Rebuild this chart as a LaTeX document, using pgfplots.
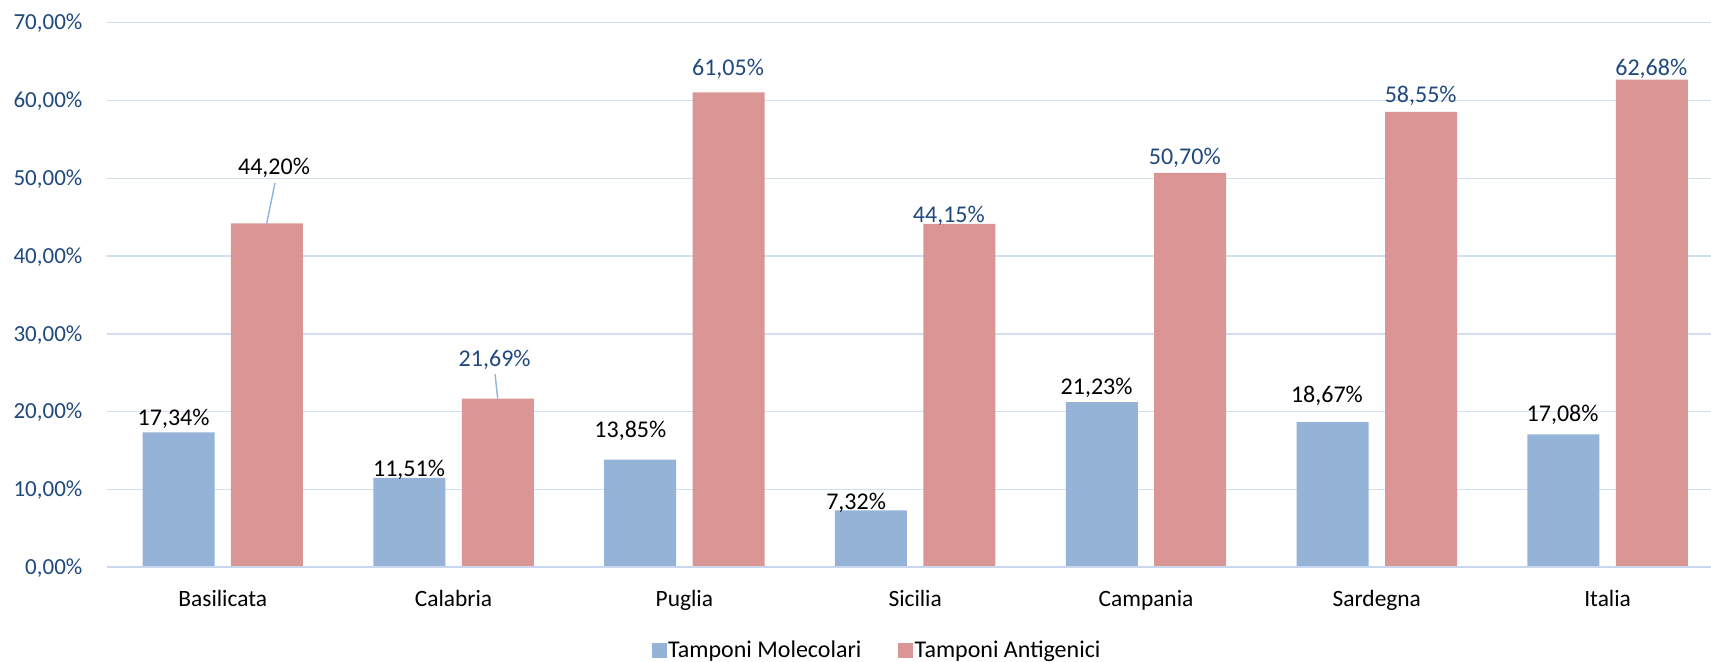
\documentclass[border=0pt]{standalone}
\usepackage{fontspec}
\setmainfont{Carlito}
\usepackage{pgfplots}
\pgfplotsset{compat=1.18}
\definecolor{barblue}{HTML}{95B3D7}
\definecolor{barred}{HTML}{D99694}
\definecolor{txtblue}{HTML}{1F497D}
\definecolor{gridc}{RGB}{210,223,241}
\definecolor{zeroc}{RGB}{200,215,238}
\definecolor{leader}{RGB}{141,180,226}
\tikzset{lbl/.style={font=\fontsize{12}{14}\selectfont, anchor=base, inner sep=0pt}}
\begin{document}
\begin{tikzpicture}
\begin{axis}[
  scale only axis, width=801.825pt, height=272.3pt,
  xmin=-0.5, xmax=6.448, ymin=0, ymax=70,
  axis line style={draw=none},
  major tick length=0pt,
  ytick={0,10,20,30,40,50,60,70},
  yticklabels={{0,00\%},{10,00\%},{20,00\%},{30,00\%},{40,00\%},{50,00\%},{60,00\%},{70,00\%}},
  ymajorgrids, major grid style={gridc, line width=0.65pt},
  xtick={0,1,2,3,4,5,6},
  xticklabels={Basilicata,Calabria,Puglia,Sicilia,Campania,Sardegna,Italia},
  yticklabel style={font=\fontsize{11.5}{13}\selectfont, text=txtblue, anchor=base east, inner sep=0pt, xshift=-12.3pt, yshift=-3.6pt},
  xticklabel style={font=\fontsize{11.7}{13}\selectfont, anchor=base, inner sep=0pt, yshift=-19.7pt},
  ybar, bar width=36pt,
  clip=false,
  legend style={at={(0.4798,-0.1528)}, anchor=center, draw=none, fill=none,
    legend columns=2, font=\fontsize{12}{14}\selectfont,
    /tikz/every even column/.append style={column sep=17.5pt},
    nodes={inner sep=0.8pt}},
  legend image code/.code={\fill[#1] (0pt,-3.75pt) rectangle (7.5pt,3.75pt);},
  legend cell align=left,
]
\addplot[fill=barblue, draw=none, bar shift=-22.1pt] coordinates {
  (0,17.34) (1,11.51) (2,13.85) (3,7.32) (4,21.23) (5,18.67) (6,17.08)};
\addplot[fill=barred, draw=none, bar shift=22.1pt] coordinates {
  (0,44.20) (1,21.69) (2,61.05) (3,44.15) (4,50.70) (5,58.55) (6,62.68)};
\legend{Tamponi Molecolari, Tamponi Antigenici}
\draw[zeroc, line width=1pt] (axis cs:-0.5,0) -- (axis cs:6.448,0);
% leader lines
\draw[leader, line width=0.7pt] (axis cs:0.2264,49.40) -- (axis cs:0.1904,44.20);
\draw[leader, line width=0.7pt] (axis cs:1.1798,24.81) -- (axis cs:1.1913,21.69);
% labels series 1
\node[lbl] at (axis cs:-0.213,18.29) {17,34\%};
\node[lbl] at (axis cs:0.807,11.65) {11,51\%};
\node[lbl] at (axis cs:1.766,16.71) {13,85\%};
\node[lbl] at (axis cs:2.744,7.46) {7,32\%};
\node[lbl] at (axis cs:3.786,22.15) {21,23\%};
\node[lbl] at (axis cs:4.784,21.16) {18,67\%};
\node[lbl] at (axis cs:5.805,18.80) {17,08\%};
% labels series 2
\node[lbl] at (axis cs:0.222,50.55) {44,20\%};
\node[lbl, text=txtblue] at (axis cs:1.178,25.87) {21,69\%};
\node[lbl, text=txtblue] at (axis cs:2.189,63.15) {61,05\%};
\node[lbl, text=txtblue] at (axis cs:3.146,44.29) {44,15\%};
\node[lbl, text=txtblue] at (axis cs:4.168,51.71) {50,70\%};
\node[lbl, text=txtblue] at (axis cs:5.190,59.72) {58,55\%};
\node[lbl, text=txtblue] at (axis cs:6.189,63.15) {62,68\%};
\end{axis}
\pgfresetboundingbox
\useasboundingbox (-53.675pt,-47.35pt) rectangle (801.825pt,283.65pt);
\end{tikzpicture}
\end{document}
